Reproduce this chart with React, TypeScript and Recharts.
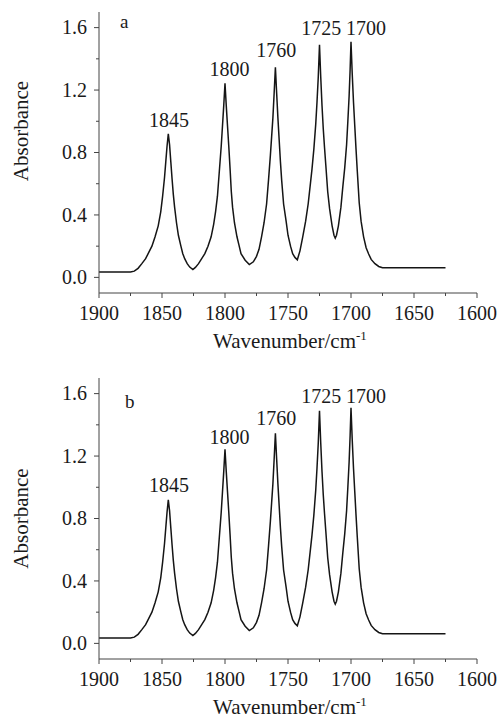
import React from 'react';
import { LineChart, Line, XAxis, YAxis, ReferenceDot, Label } from 'recharts';

// ---- data ----
const wavenumbers = [
  1900, 1875, 1872, 1869, 1866, 1863, 1861, 1858, 1855.5, 1853, 1851, 1849.5, 1848, 1847, 1846, 1845,
  1844, 1843, 1842, 1841, 1840, 1838.5, 1837, 1835, 1833.5, 1832, 1830, 1828, 1825.5,
  1823.5, 1821, 1818.5, 1816, 1813.5, 1811, 1809, 1807.5, 1806, 1804.5, 1803, 1802, 1801, 1800,
  1799, 1798, 1797, 1796, 1795, 1794, 1792.5, 1790.5, 1789, 1787.3, 1784, 1780.7,
  1777.5, 1775, 1773, 1771, 1769, 1767, 1765.5, 1764, 1763, 1762, 1761, 1760,
  1759, 1758, 1757, 1756, 1755, 1753.5, 1751.5, 1750, 1748, 1746.3, 1744.5, 1742.6,
  1740.5, 1738.3, 1736, 1734, 1732.5, 1731, 1729.5, 1728, 1727, 1726, 1725,
  1724, 1723, 1722, 1721, 1720, 1718.5, 1717, 1715, 1713.5, 1712.5, 1711.5,
  1710, 1708, 1706.5, 1705, 1703.5, 1702.5, 1701.5, 1700.7, 1700,
  1699, 1698, 1697, 1696, 1695, 1693.5, 1692, 1690, 1688, 1686, 1684, 1681, 1678, 1675, 1625,
];
const absorbance = [
  0.035, 0.035, 0.04, 0.058, 0.088, 0.12, 0.152, 0.2, 0.26, 0.33, 0.42, 0.52, 0.64, 0.74, 0.84, 0.92,
  0.85, 0.74, 0.63, 0.53, 0.45, 0.35, 0.27, 0.2, 0.152, 0.12, 0.088, 0.066, 0.05,
  0.064, 0.088, 0.12, 0.152, 0.2, 0.26, 0.34, 0.42, 0.52, 0.68, 0.84, 0.97, 1.1, 1.243,
  1.1, 0.97, 0.84, 0.7, 0.55, 0.45, 0.35, 0.26, 0.21, 0.152, 0.11, 0.082,
  0.1, 0.135, 0.18, 0.26, 0.35, 0.47, 0.62, 0.78, 0.9, 1.02, 1.18, 1.346,
  1.18, 1.02, 0.88, 0.74, 0.62, 0.47, 0.36, 0.27, 0.2, 0.152, 0.128, 0.113,
  0.17, 0.26, 0.36, 0.47, 0.58, 0.69, 0.82, 0.98, 1.12, 1.28, 1.49,
  1.28, 1.1, 0.95, 0.83, 0.72, 0.55, 0.44, 0.33, 0.27, 0.252, 0.27,
  0.33, 0.45, 0.58, 0.7, 0.85, 1.0, 1.16, 1.33, 1.51,
  1.3, 1.12, 0.97, 0.82, 0.68, 0.48, 0.36, 0.26, 0.19, 0.15, 0.115, 0.088, 0.07, 0.062, 0.062,
];

const xTicks = [1900, 1875, 1850, 1825, 1800, 1775, 1750, 1725, 1700, 1675, 1650, 1625, 1600];
const xMajorTicks = [1900, 1850, 1800, 1750, 1700, 1650, 1600];
const yTicks = [0, 0.2, 0.4, 0.6, 0.8, 1.0, 1.2, 1.4, 1.6];
const yMajorTicks = [0, 0.4, 0.8, 1.2, 1.6];

const peakLabels = ['1845', '1800', '1760', '1725', '1700'];
const peakLabelWn = [1844.5, 1796.5, 1759.3, 1723.6, 1688];
const peakLabelAbsA = [0.966, 1.293, 1.414, 1.555, 1.555];
const peakLabelAbsB = [0.968, 1.28, 1.4, 1.54, 1.54];

const panelLetters = ['a', 'b'];
const letterWn = [1883.3, 1879.4];
const letterAbs = [1.6, 1.51];

const spectrum = wavenumbers.map((wn, i) => ({ wn, abs: absorbance[i] }));

const FONT = '"Liberation Serif", "Times New Roman", serif';
const AXIS = '#444';
const TEXT = '#1a1a1a';

const XTick = (props: any) => {
  const { x, y, payload } = props;
  const v = payload.value;
  const major = xMajorTicks.includes(v);
  return (
    <g>
      <line x1={x} y1={y} x2={x} y2={y + (major ? 5 : 3)} stroke={AXIS} strokeWidth={1} />
      {major && (
        <text x={x} y={y + 27} textAnchor="middle" fontSize={20} fill={TEXT} fontFamily={FONT}>
          {v}
        </text>
      )}
    </g>
  );
};

const YTick = (props: any) => {
  const { x, y, payload } = props;
  const v = payload.value;
  const major = yMajorTicks.some((m) => Math.abs(m - v) < 1e-6);
  return (
    <g>
      <line x1={x} y1={y} x2={x - (major ? 5 : 3)} y2={y} stroke={AXIS} strokeWidth={1} />
      {major && (
        <text x={x - 12} y={y} dy="0.34em" textAnchor="end" fontSize={20} fill={TEXT} fontFamily={FONT}>
          {v.toFixed(1)}
        </text>
      )}
    </g>
  );
};

function Panel({ idx, height, bottomMargin, yLabelShift, labelAbs }: any) {
  return (
    <LineChart
      width={502}
      height={height}
      data={spectrum}
      margin={{ top: 12, right: 25, bottom: bottomMargin, left: 0 }}
    >
      <XAxis
        dataKey="wn"
        type="number"
        domain={[1600, 1900]}
        reversed
        ticks={xTicks}
        interval={0}
        height={30}
        tickSize={0}
        tickMargin={0}
        tickLine={false}
        tick={<XTick />}
        axisLine={{ stroke: AXIS, strokeWidth: 1 }}
      >
        <Label
          content={(p: any) => {
            const vb = p.viewBox;
            const cx = vb.x + vb.width / 2 + 2;
            const cy = vb.y + 55;
            return (
              <text x={cx} y={cy} textAnchor="middle" fontSize={21} fill={TEXT} fontFamily={FONT}>
                Wavenumber/cm
                <tspan fontSize={13} dy={-8}>-1</tspan>
              </text>
            );
          }}
        />
      </XAxis>
      <YAxis
        type="number"
        domain={[-0.1, 1.7]}
        ticks={yTicks}
        interval={0}
        width={99}
        tickSize={0}
        tickMargin={0}
        tickLine={false}
        tick={<YTick />}
        axisLine={{ stroke: AXIS, strokeWidth: 1 }}
      >
        <Label
          content={(p: any) => {
            const vb = p.viewBox;
            const cx = 28;
            const cy = vb.y + vb.height / 2 + yLabelShift;
            return (
              <text
                x={cx}
                y={cy}
                transform={`rotate(-90, ${cx}, ${cy})`}
                textAnchor="middle"
                fontSize={21}
                fill={TEXT}
                fontFamily={FONT}
              >
                Absorbance
              </text>
            );
          }}
        />
      </YAxis>
      <Line
        type="linear"
        dataKey="abs"
        stroke="#151515"
        strokeWidth={1.5}
        dot={false}
        isAnimationActive={false}
      />
      {peakLabels.map((t, i) => (
        <ReferenceDot
          key={t}
          x={peakLabelWn[i]}
          y={labelAbs[i]}
          r={0}
          shape={(s: any) => (
            <text x={s.cx} y={s.cy} textAnchor="middle" fontSize={20} fill={TEXT} fontFamily={FONT}>
              {t}
            </text>
          )}
        />
      ))}
      <ReferenceDot
        x={letterWn[idx]}
        y={letterAbs[idx]}
        r={0}
        shape={(s: any) => (
          <text x={s.cx} y={s.cy} textAnchor="start" fontSize={19} fill={TEXT} fontFamily={FONT}>
            {panelLetters[idx]}
          </text>
        )}
      />
    </LineChart>
  );
}

export default function App() {
  return (
    <div style={{ position: 'absolute', left: 0, top: 0, width: 502, height: 719, background: '#fff' }}>
      <Panel idx={0} height={366} bottomMargin={43} yLabelShift={-21.5} labelAbs={peakLabelAbsA} />
      <Panel idx={1} height={353} bottomMargin={30} yLabelShift={0} labelAbs={peakLabelAbsB} />
    </div>
  );
}
